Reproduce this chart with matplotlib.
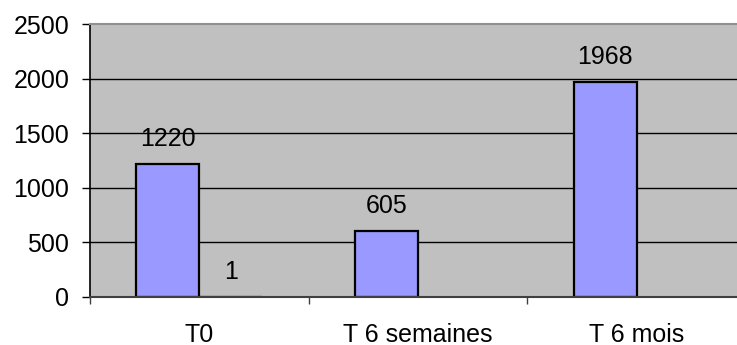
import numpy as np
import matplotlib.pyplot as plt

# Données
categories = ['T0', 'T 6 semaines', 'T 6 mois']
serie_1 = [1220, 605, 1968]
serie_2 = [1, None, None]

y_ticks = [0, 500, 1000, 1500, 2000, 2500]

plt.rcParams['font.family'] = ['Liberation Sans', 'DejaVu Sans']
taille = 18

fig = plt.figure(figsize=(7.37, 3.45), dpi=100)
ax = fig.add_axes([90 / 737, 48 / 345, 656 / 737, 273 / 345])
ax.set_facecolor('#C0C0C0')

x = np.arange(len(categories))
largeur = 0.288

# Grille horizontale
for v in y_ticks[1:-1]:
    ax.axhline(v, color='black', linewidth=1.0, zorder=1)

# Barres de la première série
ax.bar(x - largeur / 2, serie_1, width=largeur,
       color='#9999FF', edgecolor='black', linewidth=1.6, zorder=2)

# Deuxième série (seulement T0)
x2 = [xi + largeur / 2 for xi, v in zip(x, serie_2) if v is not None]
v2 = [v for v in serie_2 if v is not None]
ax.bar(x2, v2, width=largeur,
       color='#993366', edgecolor='black', linewidth=1.6, zorder=2)

# Étiquettes de valeur
for xi, v in zip(x - largeur / 2, serie_1):
    ax.annotate(str(v), (xi, v), xytext=(0, 18), textcoords='offset points',
                ha='center', va='center', fontsize=taille)
for xi, v in zip(x2, v2):
    ax.annotate(str(v), (xi, v), xytext=(0, 18), textcoords='offset points',
                ha='center', va='center', fontsize=taille)

ax.set_xlim(-0.5, len(categories) - 0.5)
ax.set_ylim(0, 2500)
ax.set_yticks(y_ticks)
ax.tick_params(axis='y', labelsize=taille, length=6, width=1, pad=9, direction='out')

# Libellés au centre des catégories, graduations aux limites
ax.set_xticks(x)
ax.set_xticklabels(categories)
ax.set_xticks(np.arange(-0.5, len(categories)), minor=True)
ax.tick_params(axis='x', which='major', length=0, labelsize=taille, pad=19)
ax.tick_params(axis='x', which='minor', length=5, width=1, color='#404040')

ax.spines['left'].set_color('black')
ax.spines['left'].set_linewidth(1.2)
ax.spines['bottom'].set_color('#404040')
ax.spines['bottom'].set_linewidth(1.5)
ax.spines['top'].set_color('#909090')
ax.spines['top'].set_linewidth(1.5)
ax.spines['right'].set_visible(False)

fig.savefig('out.png', dpi=100)
